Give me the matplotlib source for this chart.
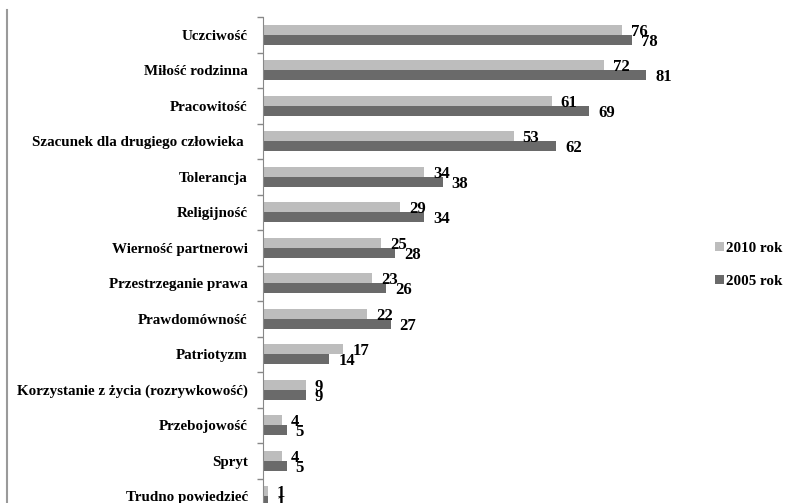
import numpy as np
import matplotlib
matplotlib.use("Agg")
from matplotlib import pyplot as plt
from matplotlib.lines import Line2D

# survey categories, top to bottom
categories = ["Uczciwość", "Miłość rodzinna", "Pracowitość",
              "Szacunek dla drugiego człowieka ", "Tolerancja", "Religijność",
              "Wierność partnerowi", "Przestrzeganie prawa", "Prawdomówność",
              "Patriotyzm", "Korzystanie z życia (rozrywkowość)", "Przebojowość",
              "Spryt", "Trudno powiedzieć"]
y2010 = [76, 72, 61, 53, 34, 29, 25, 23, 22, 17, 9, 4, 4, 1]
y2005 = [78, 81, 69, 62, 38, 34, 28, 26, 27, 14, 9, 5, 5, 1]
series_names = ["2010 rok", "2005 rok"]

light = "#bdbdbd"
dark = "#6a6a6a"
font = "Liberation Serif"

fig = plt.figure(figsize=(7.91, 5.03), dpi=100)
ax = fig.add_axes([263/791, -0.022, 473/791, 1.022 - 17/503])

n = len(categories)
pos = np.arange(n)
h = 0.28
b1 = ax.barh(pos - h/2, y2010, height=h, color=light, label=series_names[0])
b2 = ax.barh(pos + h/2, y2005, height=h, color=dark, label=series_names[1])

for bars, vals in ((b1, y2010), (b2, y2005)):
    for bar, v in zip(bars, vals):
        ax.annotate(str(v), (bar.get_width(), bar.get_y() + bar.get_height()/2),
                    xytext=(9, -2), textcoords="offset pixels",
                    ha="left", va="center", fontsize=12, fontweight="bold",
                    family=font)

ax.set_ylim(n - 0.5, -0.5)
ax.set_xlim(0, 100)
ax.set_yticks(pos)
ax.set_yticklabels(categories, fontsize=10.8, fontweight="bold", family=font)
ax.set_yticks(np.arange(-0.5, n, 1), minor=True)
ax.tick_params(axis="y", which="major", length=0, pad=11)
ax.tick_params(axis="y", which="minor", length=4, color="#888888", width=1)
ax.set_xticks([])
for s in ("top", "right", "bottom"):
    ax.spines[s].set_visible(False)
ax.spines["left"].set_color("#888888")

leg = fig.legend(handles=[b1, b2], loc="upper left",
                 bbox_to_anchor=(701/791, 1 - 228/503), frameon=False,
                 prop={"family": font, "weight": "bold", "size": 10.8},
                 handlelength=0.6, handleheight=0.6, handletextpad=0.15,
                 labelspacing=1.35)

# outer frame line on the left
fig.add_artist(Line2D([7/791, 7/791], [0, 1 - 10/503], transform=fig.transFigure,
                      color="#9a9a9a", lw=1.5))

fig.savefig("out.png", dpi=100)
